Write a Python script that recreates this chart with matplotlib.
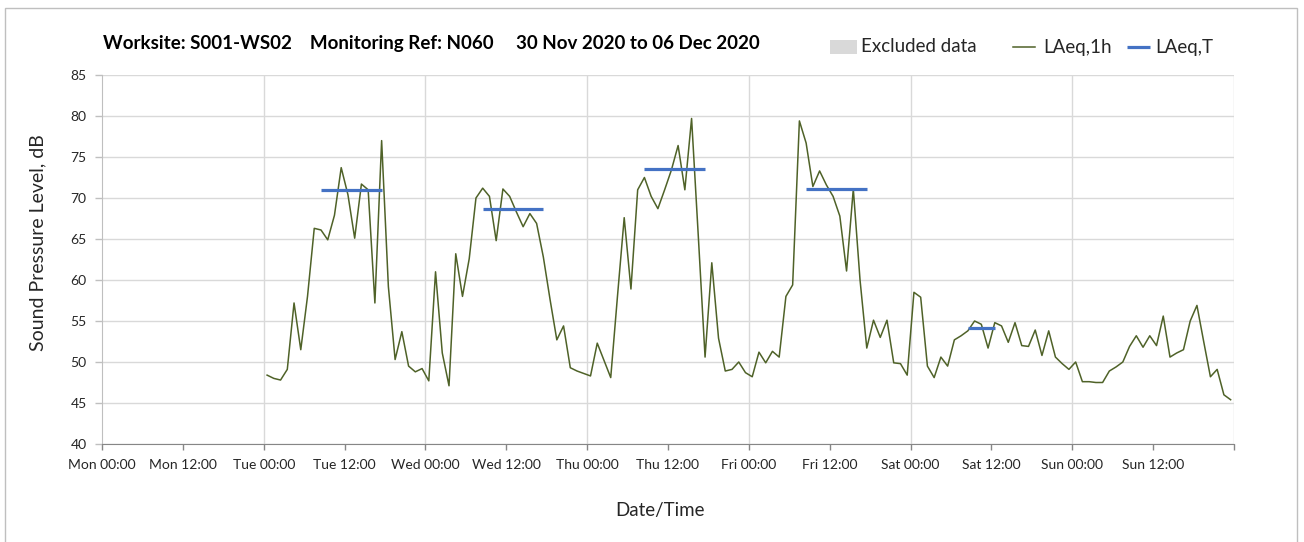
import numpy as np
import pandas as pd
import matplotlib
matplotlib.use("Agg")
import matplotlib.pyplot as plt
import matplotlib.dates as mdates
from matplotlib.patches import Rectangle
from matplotlib.lines import Line2D
from matplotlib.ticker import FuncFormatter

plt.rcParams["font.family"] = ["Lato", "DejaVu Sans"]

# ---- data -------------------------------------------------------------
site = "S001-WS02"
monitoring_ref = "N060"
period_label = "30 Nov 2020 to 06 Dec 2020"

axis_start = "2020-11-30 00:00"
axis_end = "2020-12-07 00:00"
first_hour = "2020-12-01 00:00"

# hourly LAeq,1h (dB), Tue 00:00 .. Sun 23:00
laeq_1h = [
    # Tue
    48.4, 48.0, 47.8, 49.1, 57.2, 51.5, 58.0, 66.3, 66.1, 64.9, 67.9, 73.7,
    70.4, 65.1, 71.7, 71.0, 57.2, 77.0, 59.2, 50.3, 53.7, 49.5, 48.8, 49.2,
    # Wed
    47.7, 61.0, 51.1, 47.1, 63.2, 58.0, 62.6, 70.0, 71.2, 70.2, 64.8, 71.1,
    70.2, 68.3, 66.5, 68.1, 66.9, 62.8, 57.6, 52.7, 54.4, 49.3, 48.9, 48.6,
    # Thu
    48.3, 52.3, 50.2, 48.1, 58.0, 67.6, 58.9, 71.0, 72.5, 70.2, 68.7, 71.0,
    73.4, 76.4, 71.0, 79.7, 65.3, 50.6, 62.1, 52.9, 48.9, 49.1, 50.0, 48.7,
    # Fri
    48.2, 51.2, 49.9, 51.3, 50.6, 58.0, 59.4, 79.4, 76.7, 71.4, 73.3, 71.6,
    70.2, 67.8, 61.1, 71.1, 60.0, 51.7, 55.1, 53.0, 55.1, 49.9, 49.8, 48.4,
    # Sat
    58.5, 57.9, 49.5, 48.1, 50.6, 49.5, 52.7, 53.2, 53.8, 55.0, 54.6, 51.7,
    54.8, 54.4, 52.4, 54.8, 52.0, 51.9, 53.9, 50.8, 53.8, 50.6, 49.8, 49.1,
    # Sun
    50.0, 47.6, 47.6, 47.5, 47.5, 48.9, 49.4, 50.0, 51.9, 53.2, 51.8, 53.2,
    52.0, 55.6, 50.6, 51.1, 51.5, 55.0, 56.9, 52.5, 48.2, 49.1, 46.0, 45.4,
]

# LAeq,T over the working periods
period_start = ["2020-12-01 08:00", "2020-12-02 08:00", "2020-12-03 08:00",
                "2020-12-04 08:00", "2020-12-05 08:00"]
period_end = ["2020-12-01 18:00", "2020-12-02 18:00", "2020-12-03 18:00",
              "2020-12-04 18:00", "2020-12-05 13:00"]
laeq_t = [71.0, 68.7, 73.5, 71.1, 54.1]

# periods removed from the assessment (none this week)
excluded_start = []
excluded_end = []

y_ticks = [40, 45, 50, 55, 60, 65, 70, 75, 80, 85]
legend_labels = ["Excluded data", "LAeq,1h", "LAeq,T"]

# ---- styling ----------------------------------------------------------
green = "#4f6228"
blue = "#4472c4"
grey_fill = "#d9d9d9"
grid_c = "#d9d9d9"
axis_c = "#868686"
text_c = "#262626"

W, H = 1304, 542

# hourly values are plotted at the middle of each hour
half_hour = pd.Timedelta(minutes=30)
times = pd.date_range(first_hour, periods=len(laeq_1h), freq="h") + half_hour

fig = plt.figure(figsize=(W / 100, H / 100), dpi=100)
ax = fig.add_axes([102 / W, 98 / H, 1132 / W, 369 / H])

t0, t1 = pd.Timestamp(axis_start), pd.Timestamp(axis_end)
ax.set_xlim(t0, t1)
ax.set_ylim(y_ticks[0], y_ticks[-1])

# grid: horizontal at each tick, vertical at each midnight
ax.set_yticks(y_ticks)
ax.yaxis.grid(True, color=grid_c, lw=1.0, zorder=0)
for d in pd.date_range(t0, t1, freq="D")[1:]:
    ax.axvline(d, color=grid_c, lw=1.0, zorder=0)

for s, e in zip(excluded_start, excluded_end):
    ax.axvspan(pd.Timestamp(s), pd.Timestamp(e), color=grey_fill, zorder=1)

ax.plot(times, laeq_1h, color=green, lw=1.1, zorder=3)
for s, e, v in zip(period_start, period_end, laeq_t):
    ax.plot([pd.Timestamp(s) + half_hour, pd.Timestamp(e) - half_hour], [v, v],
            color=blue, lw=2.3, solid_capstyle="butt", zorder=4)

end_num = mdates.date2num(t1)


def fmt_time(x, pos):
    if abs(x - end_num) < 1e-6:
        return ""
    return mdates.num2date(x).strftime("%a %H:%M")


ax.xaxis.set_major_locator(mdates.HourLocator(byhour=[0, 12]))
ax.xaxis.set_major_formatter(FuncFormatter(fmt_time))

for side in ("top", "right"):
    ax.spines[side].set_visible(False)
ax.spines["left"].set_color("#bfbfbf")
ax.spines["bottom"].set_color(axis_c)
ax.tick_params(axis="x", length=4, width=1, color=axis_c, pad=7,
               labelsize=10, labelcolor=text_c)
ax.tick_params(axis="y", length=5, width=1, color="#bfbfbf", pad=6,
               labelsize=10, labelcolor=text_c)

ax.set_ylabel("Sound Pressure Level, dB", fontsize=14, color=text_c)
ax.yaxis.set_label_coords(-0.0495, 0.545)
ax.set_xlabel("Date/Time", fontsize=13.5, color=text_c)
ax.xaxis.set_label_coords(0.493, -0.157)

fig.text(103 / W, 1 - 43 / H,
         f"Worksite: {site}    Monitoring Ref: {monitoring_ref}     {period_label}",
         fontsize=13.5, fontweight="bold", color="black", va="center", ha="left")

# legend row
ly = 1 - 47 / H
fig.add_artist(Rectangle((830 / W, 1 - 54 / H), 27 / W, 14 / H,
                         transform=fig.transFigure, facecolor=grey_fill,
                         edgecolor="none"))
fig.add_artist(Line2D([1013 / W, 1035 / W], [ly, ly], transform=fig.transFigure,
                      color=green, lw=1.1))
fig.add_artist(Line2D([1127 / W, 1150 / W], [ly, ly], transform=fig.transFigure,
                      color=blue, lw=2.3, solid_capstyle="butt"))
for xpx, lab in zip([861, 1043, 1155], legend_labels):
    fig.text(xpx / W, ly, lab, fontsize=13.5, color=text_c, va="center",
             ha="left")

# light frame around the whole chart
fig.add_artist(Rectangle((5 / W, -0.05), 1292 / W, 1.05 - 8 / H,
                         transform=fig.transFigure, fill=False,
                         edgecolor="#bfbfbf", lw=1.0))

fig.savefig("out.png", dpi=100)
